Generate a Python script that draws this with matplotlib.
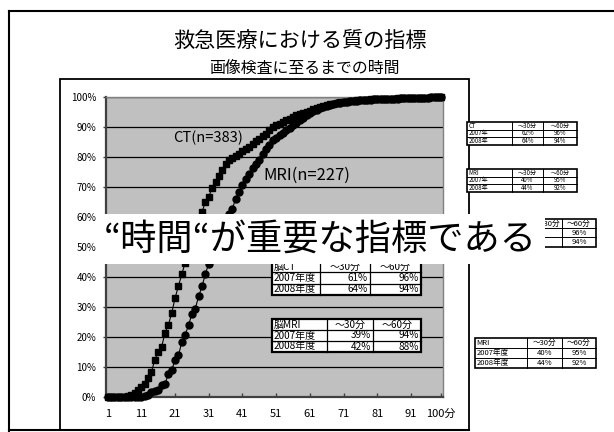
import matplotlib
matplotlib.use("Agg")
import matplotlib.pyplot as plt
from matplotlib.transforms import Affine2D
from matplotlib.patches import Rectangle
from matplotlib.lines import Line2D

plt.rcParams['font.family'] = ['Noto Sans CJK JP', 'DejaVu Sans']

# ---------------- data ----------------
minutes = list(range(1, 101))
x_tick_values = [1, 11, 21, 31, 41, 51, 61, 71, 81, 91, 100]
x_tick_labels = ["1", "11", "21", "31", "41", "51", "61", "71", "81", "91", "100分"]
y_tick_values = [0, 10, 20, 30, 40, 50, 60, 70, 80, 90, 100]
y_tick_labels = ["0%", "10%", "20%", "30%", "40%", "50%", "60%", "70%", "80%", "90%", "100%"]

ct_cum = [0, 0, 0, 0, 0, 0, 0.3, 0.8, 1.5, 2.2,
          3.2, 4.5, 6.2, 8.4, 12.5, 15.0, 16.7, 21.3, 24.0, 28.0,
          33.0, 37.0, 41.0, 44.8, 48.5, 52.0, 55.5, 59.0, 61.7, 65.0,
          66.7, 69.8, 71.7, 73.7, 75.8, 77.8, 79.1, 79.7, 80.2, 81.1,
          82.0, 82.8, 83.3, 84.4, 85.3, 86.1, 86.9, 87.8, 88.9, 90.0,
          90.6, 91.1, 91.7, 92.2, 92.8, 93.3, 93.9, 94.3, 94.7, 95.1,
          95.5, 96.0, 96.4, 96.8, 97.1, 97.4, 97.6, 97.8, 98.0, 98.2,
          98.4, 98.5, 98.7, 98.8, 98.9, 99.0, 99.1, 99.1, 99.2, 99.3,
          99.3, 99.4, 99.4, 99.5, 99.5, 99.5, 99.6, 99.6, 99.6, 99.7,
          99.7, 99.7, 99.8, 99.8, 99.8, 99.8, 99.9, 99.9, 99.9, 100.0]

mri_cum = [0, 0, 0, 0, 0, 0, 0, 0, 0, 0,
           0, 0.3, 0.6, 1.7, 2.0, 2.2, 3.9, 4.4, 7.6, 9.1,
           12.2, 13.9, 18.3, 20.8, 23.9, 27.8, 29.5, 33.6, 36.9, 41.1,
           44.5, 47.8, 51.0, 54.0, 57.0, 59.5, 61.0, 62.8, 66.1, 68.3,
           70.6, 72.8, 74.5, 76.2, 77.8, 79.1, 81.1, 82.8, 83.9, 85.6,
           86.4, 87.2, 88.0, 88.9, 89.8, 90.6, 91.4, 92.2, 93.0, 93.9,
           94.6, 95.2, 95.8, 96.3, 96.7, 97.1, 97.4, 97.7, 97.9, 98.1,
           98.3, 98.4, 98.6, 98.7, 98.8, 98.9, 99.0, 99.1, 99.1, 99.2,
           99.3, 99.3, 99.4, 99.4, 99.5, 99.5, 99.5, 99.6, 99.6, 99.6,
           99.7, 99.7, 99.7, 99.8, 99.8, 99.8, 99.9, 99.9, 99.9, 100.0]

title_text = "救急医療における質の指標"
subtitle_text = "画像検査に至るまでの時間"
ct_label = "CT(n=383)"
mri_label = "MRI(n=227)"
overlay_text = "“時間“が重要な指標である"

brain_ct_table = [["脳CT", "～30分", "～60分"],
                  ["2007年度", "61%", "96%"],
                  ["2008年度", "64%", "94%"]]
brain_mri_table = [["脳MRI", "～30分", "～60分"],
                   ["2007年度", "39%", "94%"],
                   ["2008年度", "42%", "88%"]]
side_ct_table = [["CT", "～30分", "～60分"],
                 ["2007年", "62%", "96%"],
                 ["2008年", "64%", "94%"]]
side_mri_table = [["MRI", "～30分", "～60分"],
                  ["2007年", "40%", "95%"],
                  ["2008年", "44%", "92%"]]
side_ct2_table = [["脳CT", "～30分", "～60分"],
                  ["2007年度", "61%", "96%"],
                  ["2008年度", "64%", "94%"]]
side_mri2_table = [["MRI", "～30分", "～60分"],
                   ["2007年度", "40%", "95%"],
                   ["2008年度", "44%", "92%"]]

# ---------------- figure ----------------
W, H = 614, 432
fig = plt.figure(figsize=(W / 100, H / 100), dpi=100)
px = Affine2D().scale(1 / W, -1 / H).translate(0, 1) + fig.transFigure
renderer = fig.canvas.get_renderer()


def fit_text(x, y, s, width, **kw):
    t = fig.text(x, y, s, transform=px, **kw)
    bb = t.get_window_extent(renderer)
    t.set_fontsize(t.get_fontsize() * width / bb.width)
    return t


def line(xs, ys, lw=1.2, color='black', z=1):
    fig.add_artist(Line2D(xs, ys, transform=px, color=color, lw=lw, zorder=z))


# slide border (left/top/bottom)
line([9, 9], [11, 431], lw=1.5)
line([9, 614], [11, 11], lw=1.5)
line([9, 469], [430, 430], lw=1.5)

# chart box
fig.add_artist(Rectangle((60, 79), 409, 351, transform=px, fill=False,
                         edgecolor='black', lw=1.3, zorder=1))

# titles
fit_text(300, 41, title_text, 254, ha='center', va='center', fontsize=17, color='black')
fit_text(304, 68.5, subtitle_text, 190, ha='center', va='center', fontsize=13, color='black')

# ---------------- axes ----------------
L, R, T, B = 106, 443, 97, 397
ax = fig.add_axes([L / W, 1 - B / H, (R - L) / W, (B - T) / H])
ax.set_facecolor('#C0C0C0')
ax.set_xlim(0.5, 100.5)
ax.set_ylim(0, 100)
ax.set_yticks(y_tick_values)
ax.set_yticklabels(y_tick_labels)
ax.set_xticks(x_tick_values)
ax.set_xticklabels(x_tick_labels)
ax.yaxis.grid(True, color='black', lw=0.9)
ax.set_axisbelow(True)
for s in ['top', 'right']:
    ax.spines[s].set_color('#808080')
    ax.spines[s].set_linewidth(1.0)
for s in ['left', 'bottom']:
    ax.spines[s].set_color('#404040')
    ax.spines[s].set_linewidth(1.6)
ax.tick_params(axis='y', direction='out', length=2.5, width=1, color='#404040',
               labelsize=7, pad=4.5)
ax.tick_params(axis='x', direction='in', length=3, width=1, color='#404040',
               labelsize=8, pad=8.5)

ax.plot(minutes, ct_cum, color='black', lw=0.8, marker='s', markersize=4.8,
        markerfacecolor='black', markeredgecolor='black', clip_on=False, zorder=3)
ax.plot(minutes, mri_cum, color='black', lw=0.8, marker='o', markersize=5.0,
        markerfacecolor='black', markeredgecolor='black', clip_on=False, zorder=3)

fit_text(173, 138, ct_label, 70, ha='left', va='center', fontsize=9, color='black')
fit_text(263, 175, mri_label, 87, ha='left', va='center', fontsize=9, color='black')


# ---------------- tables ----------------
def draw_table(x0, y0, col_w, row_h, cells, fs, value_align='right', z=5,
               outer_lw=1.6, inner_lw=0.9, hidden_cols=()):
    total_w = sum(col_w)
    total_h = row_h * len(cells)
    fig.add_artist(Rectangle((x0, y0), total_w, total_h, transform=px,
                             facecolor='white', edgecolor='none', zorder=z))
    for r, row in enumerate(cells):
        cx = x0
        for c, txt in enumerate(row):
            yc = y0 + row_h * (r + 0.5)
            if c in hidden_cols:
                # column covered by the overlay: only the header's tail shows
                if r == 0 and c > 0:
                    fig.text(cx + col_w[c] - 1.5, yc, txt, transform=px, ha='right',
                             va='center', fontsize=fs, zorder=z + 1)
            elif c == 0:
                fig.text(cx + 1.5, yc, txt, transform=px, ha='left', va='center',
                         fontsize=fs, zorder=z + 1)
            elif r == 0:
                fig.text(cx + col_w[c] / 2, yc, txt, transform=px, ha='center',
                         va='center', fontsize=fs, zorder=z + 1)
            elif value_align == 'right':
                fig.text(cx + col_w[c] - 2, yc, txt, transform=px, ha='right',
                         va='center', fontsize=fs, zorder=z + 1)
            else:
                fig.text(cx + col_w[c] / 2, yc, txt, transform=px, ha='center',
                         va='center', fontsize=fs, zorder=z + 1)
            cx += col_w[c]
    for r in range(1, len(cells)):
        line([x0, x0 + total_w], [y0 + r * row_h] * 2, lw=inner_lw, z=z + 2)
    cx = x0
    for c in range(len(col_w) - 1):
        cx += col_w[c]
        line([cx, cx], [y0, y0 + total_h], lw=inner_lw, z=z + 2)
    fig.add_artist(Rectangle((x0, y0), total_w, total_h, transform=px, fill=False,
                             edgecolor='black', lw=outer_lw, zorder=z + 2))


draw_table(272, 261, [48, 50, 51], 11.3, brain_ct_table, 7.2)
draw_table(272, 319, [55, 46, 48], 11, brain_mri_table, 7.2)
draw_table(467, 122, [45, 31, 34], 7.6, side_ct_table, 4.4, value_align='center',
           outer_lw=1.2, inner_lw=0.7)
draw_table(467, 169, [45, 31, 34], 7.6, side_mri_table, 4.4, value_align='center',
           outer_lw=1.2, inner_lw=0.7)
# this table is mostly hidden behind the white overlay; only its right part shows
draw_table(475, 219, [52, 35, 34], 9.2, side_ct2_table, 5.5, value_align='center',
           outer_lw=1.2, inner_lw=0.7, hidden_cols=(0, 1))
draw_table(475, 338, [52, 35, 34], 10, side_mri2_table, 5.5, value_align='center',
           outer_lw=1.2, inner_lw=0.7)

# ---------------- overlay ----------------
fig.add_artist(Rectangle((99, 214), 446, 50, transform=px, facecolor='white',
                         edgecolor='none', zorder=20))
fit_text(104, 240, overlay_text, 433, ha='left', va='center', fontsize=26,
         color='black', zorder=21)

fig.savefig("out.png", dpi=100)
